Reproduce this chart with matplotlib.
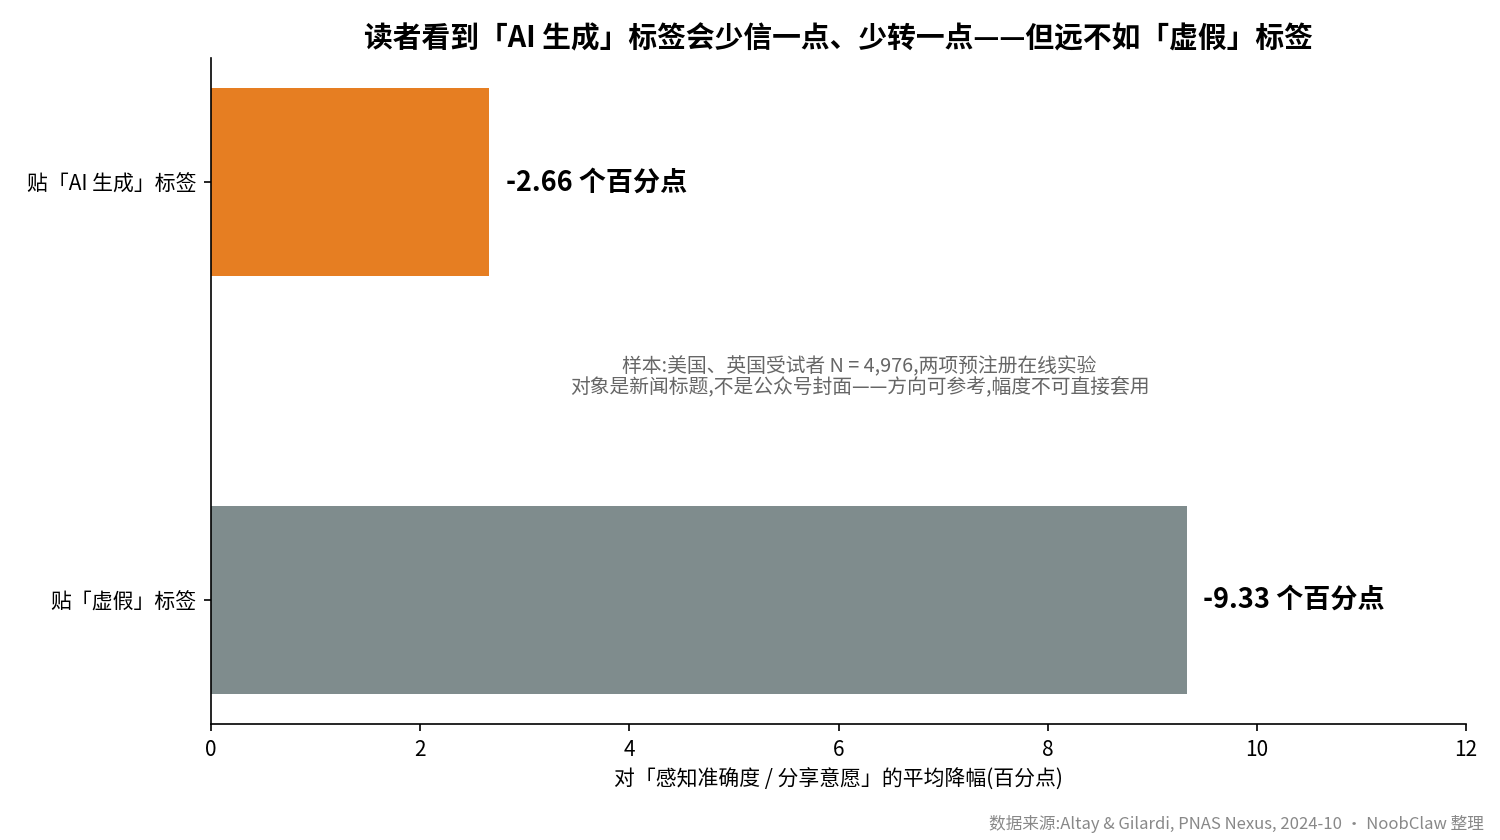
import matplotlib
matplotlib.use('Agg')
import matplotlib.pyplot as plt

plt.rcParams['font.family'] = ['Noto Sans CJK SC', 'DejaVu Sans']
plt.rcParams['axes.unicode_minus'] = False

# data
categories = ['贴「虚假」标签', '贴「AI 生成」标签']
values = [9.33, 2.66]
value_labels = ['-9.33 个百分点', '-2.66 个百分点']
colors = ['#7F8C8D', '#E67E22']
x_ticks = [0, 2, 4, 6, 8, 10, 12]

title = '读者看到「AI 生成」标签会少信一点、少转一点——但远不如「虚假」标签'
xlabel = '对「感知准确度 / 分享意愿」的平均降幅(百分点)'
note = '样本:美国、英国受试者 N = 4,976,两项预注册在线实验\n对象是新闻标题,不是公众号封面——方向可参考,幅度不可直接套用'
source = '数据来源:Altay & Gilardi, PNAS Nexus, 2024-10 · NoobClaw 整理'

fig = plt.figure(figsize=(10, 5.6), dpi=150)
ax = fig.add_axes([0.1407, 0.1381, 0.8366, 0.7929])

ypos = list(range(len(categories)))
ax.barh(ypos, values, height=0.45, color=colors)
ax.set_yticks(ypos)
ax.set_yticklabels(categories, fontsize=10)

for y, v, lab in zip(ypos, values, value_labels):
    ax.text(v + 0.16, y, lab, va='center', ha='left', fontsize=13, fontweight='bold', color='black')

ax.set_xlim(0, 12)
ax.set_xticks(x_ticks)
ax.tick_params(axis='x', labelsize=10)
ax.set_xlabel(xlabel, fontsize=10)

ax.spines['top'].set_visible(False)
ax.spines['right'].set_visible(False)

ax.text(6.2, 0.483, note, ha='center', va='bottom', fontsize=9.5, color='#666666', linespacing=1.0)

ax.set_title(title, fontsize=13.8, fontweight='bold', pad=5)
fig.text(0.989, 0.008, source, ha='right', va='bottom', fontsize=8, color='#888888')

fig.savefig('out.png', dpi=150)
